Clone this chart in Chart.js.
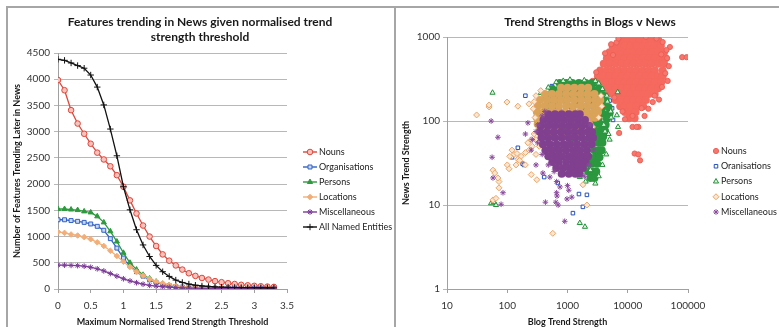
<!DOCTYPE html>
<html>
<head>
<meta charset="utf-8">
<script src="https://cdn.jsdelivr.net/npm/chart.js@4.4.1/dist/chart.umd.min.js"></script>
<style>
  html, body { margin: 0; padding: 0; background: #fff; }
  #wrap { position: relative; width: 779px; height: 327px; overflow: hidden; }
  .rule { position: absolute; background: #a6a6a6; }
  canvas { position: absolute; }
</style>
</head>
<body>
<div id="wrap">
  <div class="rule" style="left:6px;top:6px;width:773px;height:2px"></div>
  <div class="rule" style="left:6px;top:6px;width:2px;height:321px"></div>
  <div class="rule" style="left:394px;top:6px;width:2px;height:321px"></div>
  <canvas id="trendChart" width="386" height="319" style="left:8px;top:8px"></canvas>
  <canvas id="scatterChart" width="382" height="319" style="left:397px;top:8px"></canvas>
</div>
<script>
// left chart: features trending vs threshold
const thresholds = [0, 0.1, 0.2, 0.3, 0.4, 0.5, 0.6, 0.7, 0.8, 0.9, 1.0, 1.1, 1.2, 1.3, 1.4, 1.5, 1.6,
  1.7, 1.8, 1.9, 2.0, 2.1, 2.2, 2.3, 2.4, 2.5, 2.6, 2.7, 2.8, 2.9, 3.0, 3.1, 3.2, 3.3];
const nouns = [3985, 3790, 3410, 3155, 2960, 2770, 2600, 2470, 2340, 2170, 1950, 1690, 1440, 1210, 1000, 820, 660,
  540, 450, 370, 300, 250, 210, 180, 150, 130, 110, 95, 80, 70, 60, 52, 46, 40];
const organisations = [1320, 1320, 1305, 1290, 1270, 1240, 1195, 1120, 960, 780, 590, 440, 330, 245, 175, 125, 90,
  65, 48, 37, 30, 25, 21, 18, 16, 14, 13, 12, 11, 10, 10, 9, 9, 8];
const persons = [1525, 1525, 1515, 1505, 1480, 1460, 1385, 1270, 1100, 905, 690, 500, 370, 270, 200, 140, 100,
  75, 55, 42, 34, 28, 24, 20, 17, 15, 13, 12, 11, 10, 9, 9, 8, 8];
const locations = [1090, 1070, 1040, 1020, 990, 950, 890, 820, 730, 630, 520, 420, 330, 255, 190, 140, 105,
  78, 58, 45, 36, 29, 24, 20, 17, 15, 13, 12, 11, 10, 9, 9, 8, 8];
const miscellaneous = [455, 455, 450, 445, 435, 415, 385, 345, 295, 245, 195, 155, 120, 92, 70, 55, 43,
  34, 27, 22, 18, 15, 13, 11, 10, 9, 8, 7, 7, 6, 6, 5, 5, 5];
const allNamedEntities = [4380, 4360, 4310, 4260, 4210, 4080, 3850, 3510, 3050, 2540, 1950, 1510, 1130, 840, 620, 450, 330,
  240, 170, 125, 95, 72, 58, 48, 40, 35, 32, 30, 28, 26, 25, 24, 23, 22];
const thresholdTicks = [0, 0.5, 1, 1.5, 2, 2.5, 3, 3.5];
const countTicks = [0, 500, 1000, 1500, 2000, 2500, 3000, 3500, 4000, 4500];

// right chart: blog vs news trend strength; dense parts as rows of [news, [blog values...]]
const nounRows = [
  [920, [8000, 10000, 12600, 15800, 20000, 25000, 32000]],
  [780, [5600, 7100, 8900, 11200, 14100, 17800, 22400, 28200, 35500]],
  [660, [5000, 6300, 8000, 10000, 12600, 15800, 20000, 25000, 32000, 40000]],
  [560, [4500, 5600, 7100, 8900, 11200, 14100, 17800, 22400, 28200, 35500, 42000]],
  [480, [4000, 5000, 6300, 8000, 10000, 12600, 15800, 20000, 25000, 32000, 40000]],
  [400, [3500, 4500, 5600, 7100, 8900, 11200, 14100, 17800, 22400, 28200, 38000]],
  [340, [3200, 4000, 5000, 6300, 8000, 10000, 12600, 15800, 20000, 25000, 32000, 38000]],
  [290, [2800, 3500, 4500, 5600, 7100, 8900, 11200, 14100, 17800, 22400, 28200, 36000]],
  [245, [3000, 4000, 5000, 6300, 8000, 10000, 12600, 15800, 20000, 25000, 32000]],
  [210, [4300, 5600, 7100, 8900, 11200, 14100, 17800, 22400, 28000]],
  [178, [6300, 8000, 10000, 12600, 15800, 20000]],
  [150, [7500, 8900, 11200, 14100, 18000]],
  [128, [9000, 11200, 13500]],
  [108, [10500, 13000]]
];
const nounOutliers = [[5300, 820], [4200, 640], [5700, 610], [45000, 560], [80000, 575], [95000, 575], [50000, 760],
  [42000, 370], [37000, 254], [26000, 168], [17000, 142], [12000, 115], [12000, 85], [15000, 85], [7200, 72],
  [14000, 85], [13000, 41], [15000, 40], [16000, 34], [30000, 960], [36000, 620], [48000, 450], [28000, 200], [20000, 1000],
  [3000, 380], [2600, 300], [3400, 220], [6500, 860], [7000, 960], [38000, 870], [44000, 700], [46000, 300],
  [33000, 180], [22000, 140], [9000, 105], [6000, 190], [4000, 200], [8200, 130], [19000, 115]];

const orgRows = [
  [220, [700, 1100, 1800, 2600]],
  [150, [600, 1000, 1600, 2400, 3400]],
  [100, [700, 1200, 2000, 3000]],
  [60, [900, 1500, 2400]]
];
const orgOutliers = [[200, 200], [410, 200], [550, 260], [600, 230], [320, 125], [310, 95], [120, 37], [150, 48],
  [180, 31], [190, 30], [1230, 8], [1800, 9.5], [1550, 13.5], [2100, 13.2], [2750, 34], [2100, 29], [1500, 24],
  [690, 18.3], [410, 21.5], [3000, 60], [3200, 95], [3500, 120], [4000, 150], [420, 55], [500, 80], [640, 45],
  [1500, 270], [3600, 140], [2800, 250], [3900, 180], [460, 110], [5500, 142], [5700, 103], [5000, 175]];

const personRows = [
  [283, [740, 950, 1200, 1550, 2000, 2550]],
  [240, [560, 740, 950, 1200, 1550, 2000, 2550, 3300]],
  [203, [470, 600, 780, 1000, 1300, 1700, 2200, 2900, 3800]],
  [172, [470, 650, 950, 1550, 2550, 3300, 4300]],
  [146, [510, 700, 1200, 2000, 2900, 3700, 4800]],
  [124, [570, 800, 1300, 2200, 3000, 3800, 5000]],
  [106, [640, 1000, 1600, 2500, 3300, 4500]],
  [90, [750, 1200, 2000, 2800, 3600, 4300]],
  [76, [900, 1400, 2200, 3000, 3700, 4200]],
  [65, [1100, 1700, 2500, 3200, 3900]],
  [55, [1330, 2000, 2700, 3300, 3800]],
  [45, [1500, 2100, 2800, 3300, 3700]],
  [37, [1750, 2300, 2900, 3400]],
  [31, [1950, 2500, 3100]],
  [25, [2200, 2700, 3000]],
  [21, [2400, 2800]]
];
const personOutliers = [[57, 217], [360, 215], [54, 10.5], [65, 10], [60, 10.8], [1600, 6.1], [1950, 5.5],
  [1600, 21.5], [2400, 26], [2900, 300], [850, 300], [4000, 90], [4800, 70], [5200, 130], [4500, 200],
  [650, 290], [1100, 310], [1900, 305], [3300, 280], [3800, 240], [4600, 170], [5300, 110], [5000, 60],
  [4400, 40], [3800, 30], [3300, 22], [2900, 18], [2000, 19], [480, 250], [420, 190], [4200, 75],
  [6800, 220], [6600, 117], [6900, 85]];

const locationRows = [
  [248, [780, 1000, 1300, 1700, 2200]],
  [210, [420, 550, 720, 950, 1250, 1650, 2150, 2800]],
  [178, [350, 460, 600, 780, 1000, 1300, 1700, 2200, 2900, 3500]],
  [151, [320, 420, 550, 720, 950, 1250, 1650, 2150, 2800, 3400]],
  [128, [310, 400, 520, 680, 900, 1200, 1600, 2100, 2700, 3200]],
  [109, [310, 400, 520, 700, 950, 1300, 1750, 2300, 2850]],
  [92, [320, 420, 560, 800, 1200, 1700, 2300]],
  [78, [350, 480, 700, 1100, 1600, 2000]],
  [66, [380, 550, 900, 1300, 1600]]
];
const locationOutliers = [[31, 118], [50, 147], [50, 155], [99, 168], [150, 150], [230, 160], [58, 26], [73, 19],
  [73, 16], [58, 11.5], [100, 30], [107, 27], [250, 23], [570, 4.6], [1800, 17.4], [2100, 10], [300, 60], [260, 50],
  [230, 45], [200, 42], [170, 38], [150, 35], [130, 40], [160, 34], [280, 70], [250, 60], [220, 55], [120, 45],
  [110, 38], [140, 30], [200, 30], [300, 40], [340, 50], [65, 12], [62, 24], [70, 21], [145, 41], [310, 20],
  [360, 230], [300, 200], [280, 170], [270, 140], [290, 110], [3600, 200], [3700, 150], [3300, 110], [2600, 85]];

const miscRows = [
  [120, [480, 620, 800, 1050, 1350, 1600]],
  [103, [400, 520, 680, 880, 1150, 1500, 1950]],
  [87, [360, 470, 610, 800, 1050, 1350, 1750, 2300]],
  [74, [350, 450, 590, 770, 1000, 1300, 1700, 2200, 2550]],
  [63, [370, 480, 620, 800, 1050, 1350, 1750, 2300, 2650]],
  [53, [390, 510, 660, 860, 1100, 1450, 1900, 2500]],
  [45, [430, 560, 730, 950, 1250, 1600, 2100]],
  [38, [480, 620, 800, 1050, 1350, 1750, 2200]],
  [32.5, [560, 720, 950, 1250, 1600, 2000]],
  [27.5, [650, 850, 1100, 1400, 1800]],
  [23.5, [800, 1050, 1350, 1600]]
];
const miscOutliers = [[54, 100], [70, 64], [56, 37], [58, 21], [85, 14], [79, 10.2], [430, 10.8], [640, 10.8],
  [700, 10], [670, 12.8], [980, 11.8], [900, 6.4], [390, 24], [510, 21.5], [660, 19], [750, 16.4], [1000, 17],
  [1050, 15], [1180, 12.4], [660, 14], [300, 30], [220, 95], [260, 60], [200, 70], [250, 45],
  [420, 130], [380, 115], [320, 90], [300, 75], [320, 55], [380, 40], [2400, 90], [2700, 45], [2300, 30],
  [1900, 22], [600, 25], [480, 30]];

const blogTicks = [10, 100, 1000, 10000, 100000];
const newsTicks = [1, 10, 100, 1000];

const FONT = "Lato, 'Open Sans', sans-serif";
Chart.defaults.font.family = FONT;
Chart.defaults.color = '#333';

function rowPoints(rows) {
  const pts = [];
  rows.forEach(r => r[1].forEach(b => pts.push({x: b, y: r[0]})));
  return pts;
}
function pairPoints(list) {
  return list.map(p => ({x: p[0], y: p[1]}));
}

function markerAt(ctx, ds, x, y) {
  ctx.fillStyle = ds.pointBackgroundColor;
  ctx.strokeStyle = ds.pointBorderColor;
  ctx.lineWidth = ds.pointBorderWidth;
  if (Chart.helpers && Chart.helpers.drawPoint) {
    Chart.helpers.drawPoint(ctx, {pointStyle: ds.pointStyle, radius: ds.pointRadius, rotation: 0,
      borderWidth: ds.pointBorderWidth}, x, y);
  } else {
    ctx.beginPath(); ctx.arc(x, y, ds.pointRadius, 0, Math.PI * 2); ctx.fill(); ctx.stroke();
  }
}

// heading + side legend drawn like the spreadsheet ones
function decorations(heading, headX, headY, legX, legY, legStep, withLine) {
  return {
    id: 'decorations',
    afterDraw(chart) {
      const ctx = chart.ctx;
      ctx.save();
      ctx.fillStyle = '#1a1a1a';
      ctx.font = 'bold 12px ' + FONT;
      ctx.textAlign = 'center';
      ctx.textBaseline = 'middle';
      heading.forEach((line, i) => ctx.fillText(line, headX, headY + i * 15));

      chart.data.datasets.filter(ds => ds.inLegend).forEach((ds, i) => {
        const y = legY + i * legStep;
        if (withLine) {
          ctx.strokeStyle = ds.borderColor;
          ctx.lineWidth = 1.4;
          ctx.beginPath(); ctx.moveTo(legX - 7, y); ctx.lineTo(legX + 7, y); ctx.stroke();
        }
        markerAt(ctx, ds, legX, y);
        ctx.fillStyle = '#222';
        ctx.font = '9px ' + FONT;
        ctx.textBaseline = 'middle';
        ctx.textAlign = 'left';
        ctx.fillText(ds.label, legX + (withLine ? 9 : 5), y);
      });
      ctx.restore();
    }
  };
}

function lineSet(label, values, color, fill, style, radius, order) {
  return {
    label: label, inLegend: true,
    data: thresholds.map((t, i) => ({x: t, y: values[i]})),
    borderColor: color, backgroundColor: fill, borderWidth: 1.3,
    pointStyle: style, pointRadius: radius, pointBorderWidth: 1,
    pointBackgroundColor: fill, pointBorderColor: color,
    tension: 0, order: order
  };
}

function dotSet(label, data, color, fill, style, radius, order) {
  return {
    label: label, inLegend: true, data: data,
    borderColor: color, backgroundColor: fill,
    pointStyle: style, pointRadius: radius, pointBorderWidth: 1,
    pointBackgroundColor: fill, pointBorderColor: color, order: order
  };
}

// the solid middle of a cloud
function cloudSet(label, data, color, order) {
  return {
    label: label, inLegend: false, data: data,
    pointStyle: 'circle', pointRadius: 4, pointBorderWidth: 0,
    pointBackgroundColor: color, pointBorderColor: color, order: order
  };
}

const axisGrey = '#a0a0a0';
const tickFont = {size: 10};
const titleFont = {size: 9, weight: 'bold'};

new Chart(document.getElementById('trendChart'), {
  type: 'line',
  data: {
    datasets: [
      lineSet('Nouns', nouns, '#e0463a', '#f6c2bb', 'circle', 2.8, 6),
      lineSet('Organisations', organisations, '#2f62c8', '#cdd9f3', 'rect', 2.8, 5),
      lineSet('Persons', persons, '#2e9a3e', '#2e9a3e', 'triangle', 3, 4),
      lineSet('Locations', locations, '#f3ae78', '#f3ae78', 'rectRot', 2.8, 3),
      lineSet('Miscellaneous', miscellaneous, '#7d3c98', '#7d3c98', 'star', 2.8, 2),
      lineSet('All Named Entities', allNamedEntities, '#111111', '#111111', 'cross', 3.2, 1)
    ]
  },
  options: {
    responsive: false,
    animation: false,
    layout: {padding: {left: 4, right: 107, top: 45, bottom: 0}},
    plugins: {legend: {display: false}, tooltip: {enabled: false}, title: {display: false}},
    scales: {
      x: {
        type: 'linear', min: 0, max: 3.5,
        afterBuildTicks: s => { s.ticks = thresholdTicks.map(v => ({value: v})); },
        afterFit: s => { s.height = 38; },
        ticks: {callback: v => String(v), font: tickFont, padding: 7, maxRotation: 0, autoSkip: false},
        grid: {drawOnChartArea: false, tickLength: 4, color: axisGrey},
        border: {color: axisGrey},
        title: {display: true, text: 'Maximum Normalised Trend Strength Threshold', font: titleFont, color: '#1a1a1a', padding: 0}
      },
      y: {
        min: 0, max: 4500,
        afterBuildTicks: s => { s.ticks = countTicks.map(v => ({value: v})); },
        afterFit: s => { s.width = 46; },
        ticks: {callback: v => String(v), font: tickFont, padding: 4},
        grid: {color: '#b8b8b8', tickLength: 4},
        border: {color: axisGrey},
        title: {display: true, text: 'Number of Features Trending Later in News', font: titleFont, color: '#1a1a1a', padding: 0}
      }
    }
  },
  plugins: [decorations(['Features trending in News given normalised trend', 'strength threshold'],
    192, 14, 302, 144, 15, true)]
});

new Chart(document.getElementById('scatterChart'), {
  type: 'scatter',
  data: {
    datasets: [
      cloudSet('Nouns', rowPoints(nounRows), '#f5695e', 10),
      dotSet('Nouns', pairPoints(nounOutliers), '#ee5f55', '#f6776d', 'circle', 2.6, 9),
      dotSet('Oranisations', rowPoints(orgRows).concat(pairPoints(orgOutliers)), '#2450c0', '#ffffff', 'rect', 2.5, 7),
      cloudSet('Persons', rowPoints(personRows), '#2b973f', 6),
      dotSet('Persons', pairPoints(personOutliers), '#23913a', '#e3f3e3', 'triangle', 3, 5),
      cloudSet('Locations', rowPoints(locationRows), '#d9a35a', 4),
      dotSet('Locations', pairPoints(locationOutliers), '#eba466', '#fbe6d2', 'rectRot', 3, 3),
      cloudSet('Miscellaneous', rowPoints(miscRows), '#81408f', 2),
      dotSet('Miscellaneous', pairPoints(miscOutliers), '#8a4a9c', '#8a4a9c', 'star', 2.8, 1)
    ]
  },
  options: {
    responsive: false,
    animation: false,
    layout: {padding: {left: 4, right: 91, top: 29, bottom: 0}},
    plugins: {legend: {display: false}, tooltip: {enabled: false}, title: {display: false}},
    scales: {
      x: {
        type: 'logarithmic', min: 10, max: 100000,
        afterBuildTicks: s => { s.ticks = blogTicks.map(v => ({value: v})); },
        afterFit: s => { s.height = 38; },
        ticks: {callback: v => String(v), font: tickFont, padding: 7, maxRotation: 0, autoSkip: false},
        grid: {drawOnChartArea: false, tickLength: 4, color: axisGrey},
        border: {color: axisGrey},
        title: {display: true, text: 'Blog Trend Strength', font: titleFont, color: '#1a1a1a', padding: 0}
      },
      y: {
        type: 'logarithmic', min: 1, max: 1000,
        afterBuildTicks: s => { s.ticks = newsTicks.map(v => ({value: v})); },
        afterFit: s => { s.width = 46; },
        ticks: {callback: v => String(v), font: tickFont, padding: 3},
        grid: {color: '#b8b8b8', tickLength: 4},
        border: {color: axisGrey},
        title: {display: true, text: 'News Trend Strength', font: titleFont, color: '#1a1a1a', padding: 0}
      }
    }
  },
  plugins: [decorations(['Trend Strengths in Blogs v News'], 193, 14, 319, 143, 15.25, false)]
});
</script>
</body>
</html>
